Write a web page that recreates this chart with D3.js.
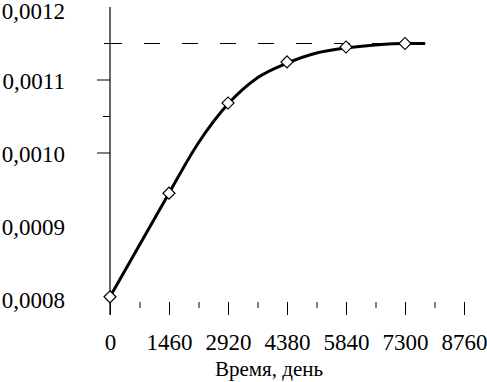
<!DOCTYPE html>
<html>
<head>
<meta charset="utf-8">
<script src="https://cdn.jsdelivr.net/npm/d3@7"></script>
<style>
  body { margin: 0; background: #fff; }
  text { font-family: "Liberation Serif", "DejaVu Serif", serif; fill: #000; }
</style>
</head>
<body>
<script>
// measured points (markers)
const pointDays = [0, 1460, 2920, 4380, 5840, 7300];
const pointValues = [0.000803, 0.000945, 0.0010685, 0.0011247, 0.0011452, 0.00115];

// fitted curve
const curveDays = [0, 730, 1460, 2190, 2920, 3650, 4380, 5110, 5840, 6570, 7300, 7800];
const curveValues = [0.000803, 0.000874, 0.000945, 0.001014, 0.001067, 0.001103,
                     0.001123, 0.001137, 0.001144, 0.001148, 0.00115, 0.00115];

const asymptote = 0.00115;

const xMajor = [0, 1460, 2920, 4380, 5840, 7300, 8760];
const xMinor = [730, 2190, 3650, 5110, 6570, 8030];
const yLabels = [0.0008, 0.0009, 0.0010, 0.0011, 0.0012];
const yMajor = [0.0010, 0.0011];
const yMinor = [0.00105];
const yCross = [0.00115];

const width = 487, height = 382;

const svg = d3.select("body").append("svg")
    .attr("width", width).attr("height", height);

const x = d3.scaleLinear().domain([0, 8760]).range([110, 464]);
const y = d3.scaleLinear().domain([0.0008, 0.0012]).range([299, 7]);

const fmt = d => d3.format(".4f")(d).replace(".", ",");

// y axis line
svg.append("line")
    .attr("x1", x(0)).attr("x2", x(0))
    .attr("y1", y(0.0012)).attr("y2", 315)
    .attr("stroke", "#000").attr("stroke-width", 1.2);

// y ticks
svg.selectAll(".ymaj").data(yMajor).enter().append("line")
    .attr("x1", x(0) - 13).attr("x2", x(0))
    .attr("y1", d => y(d)).attr("y2", d => y(d))
    .attr("stroke", "#000");
svg.selectAll(".ymin").data(yMinor).enter().append("line")
    .attr("x1", x(0) - 7).attr("x2", x(0))
    .attr("y1", d => y(d)).attr("y2", d => y(d))
    .attr("stroke", "#000");
svg.selectAll(".ycross").data(yCross).enter().append("line")
    .attr("x1", x(0) - 6).attr("x2", x(0) + 9)
    .attr("y1", d => y(d)).attr("y2", d => y(d))
    .attr("stroke", "#000");

// y labels
svg.selectAll(".ylab").data(yLabels).enter().append("text")
    .attr("x", 65).attr("y", d => Math.max(y(d), 10) + 1)
    .attr("dy", "0.35em")
    .attr("text-anchor", "end")
    .style("font-size", "23px")
    .text(fmt);

// x axis: ticks only, no domain line
const xAxisMajor = d3.axisBottom(x).tickValues(xMajor).tickSize(13).tickPadding(19)
    .tickFormat(d3.format("d"));
const gx = svg.append("g").attr("transform", "translate(0,302)").call(xAxisMajor);
gx.select(".domain").remove();
gx.selectAll("line").attr("stroke", "#000");
gx.selectAll("text")
    .style("font-size", "23px")
    .style("font-family", "'Liberation Serif', serif");

const gxm = svg.append("g").attr("transform", "translate(0,302)")
    .call(d3.axisBottom(x).tickValues(xMinor).tickSize(6).tickFormat(""));
gxm.select(".domain").remove();
gxm.selectAll("line").attr("stroke", "#000");

// asymptote
svg.append("line")
    .attr("x1", x(0)).attr("x2", x(7800))
    .attr("y1", y(asymptote)).attr("y2", y(asymptote))
    .attr("stroke", "#000").attr("stroke-width", 1)
    .attr("stroke-dasharray", "16,22")
    .attr("stroke-dashoffset", 4);

// curve
const line = d3.line()
    .x((d, i) => x(curveDays[i]))
    .y(d => y(d))
    .curve(d3.curveMonotoneX);
svg.append("path")
    .datum(curveValues)
    .attr("d", line)
    .attr("fill", "none")
    .attr("stroke", "#000")
    .attr("stroke-width", 3);

// markers
const diamond = d3.symbol().type(d3.symbolSquare).size(72);
svg.selectAll(".pt").data(pointValues).enter().append("path")
    .attr("d", diamond)
    .attr("transform", (d, i) => "translate(" + x(pointDays[i]) + "," + y(d) + ") rotate(45)")
    .attr("fill", "#fff")
    .attr("stroke", "#000")
    .attr("stroke-width", 1.2);

// axis title
svg.append("text")
    .attr("x", 269).attr("y", 376)
    .attr("text-anchor", "middle")
    .style("font-size", "21px")
    .text("Время, день");
</script>
</body>
</html>
